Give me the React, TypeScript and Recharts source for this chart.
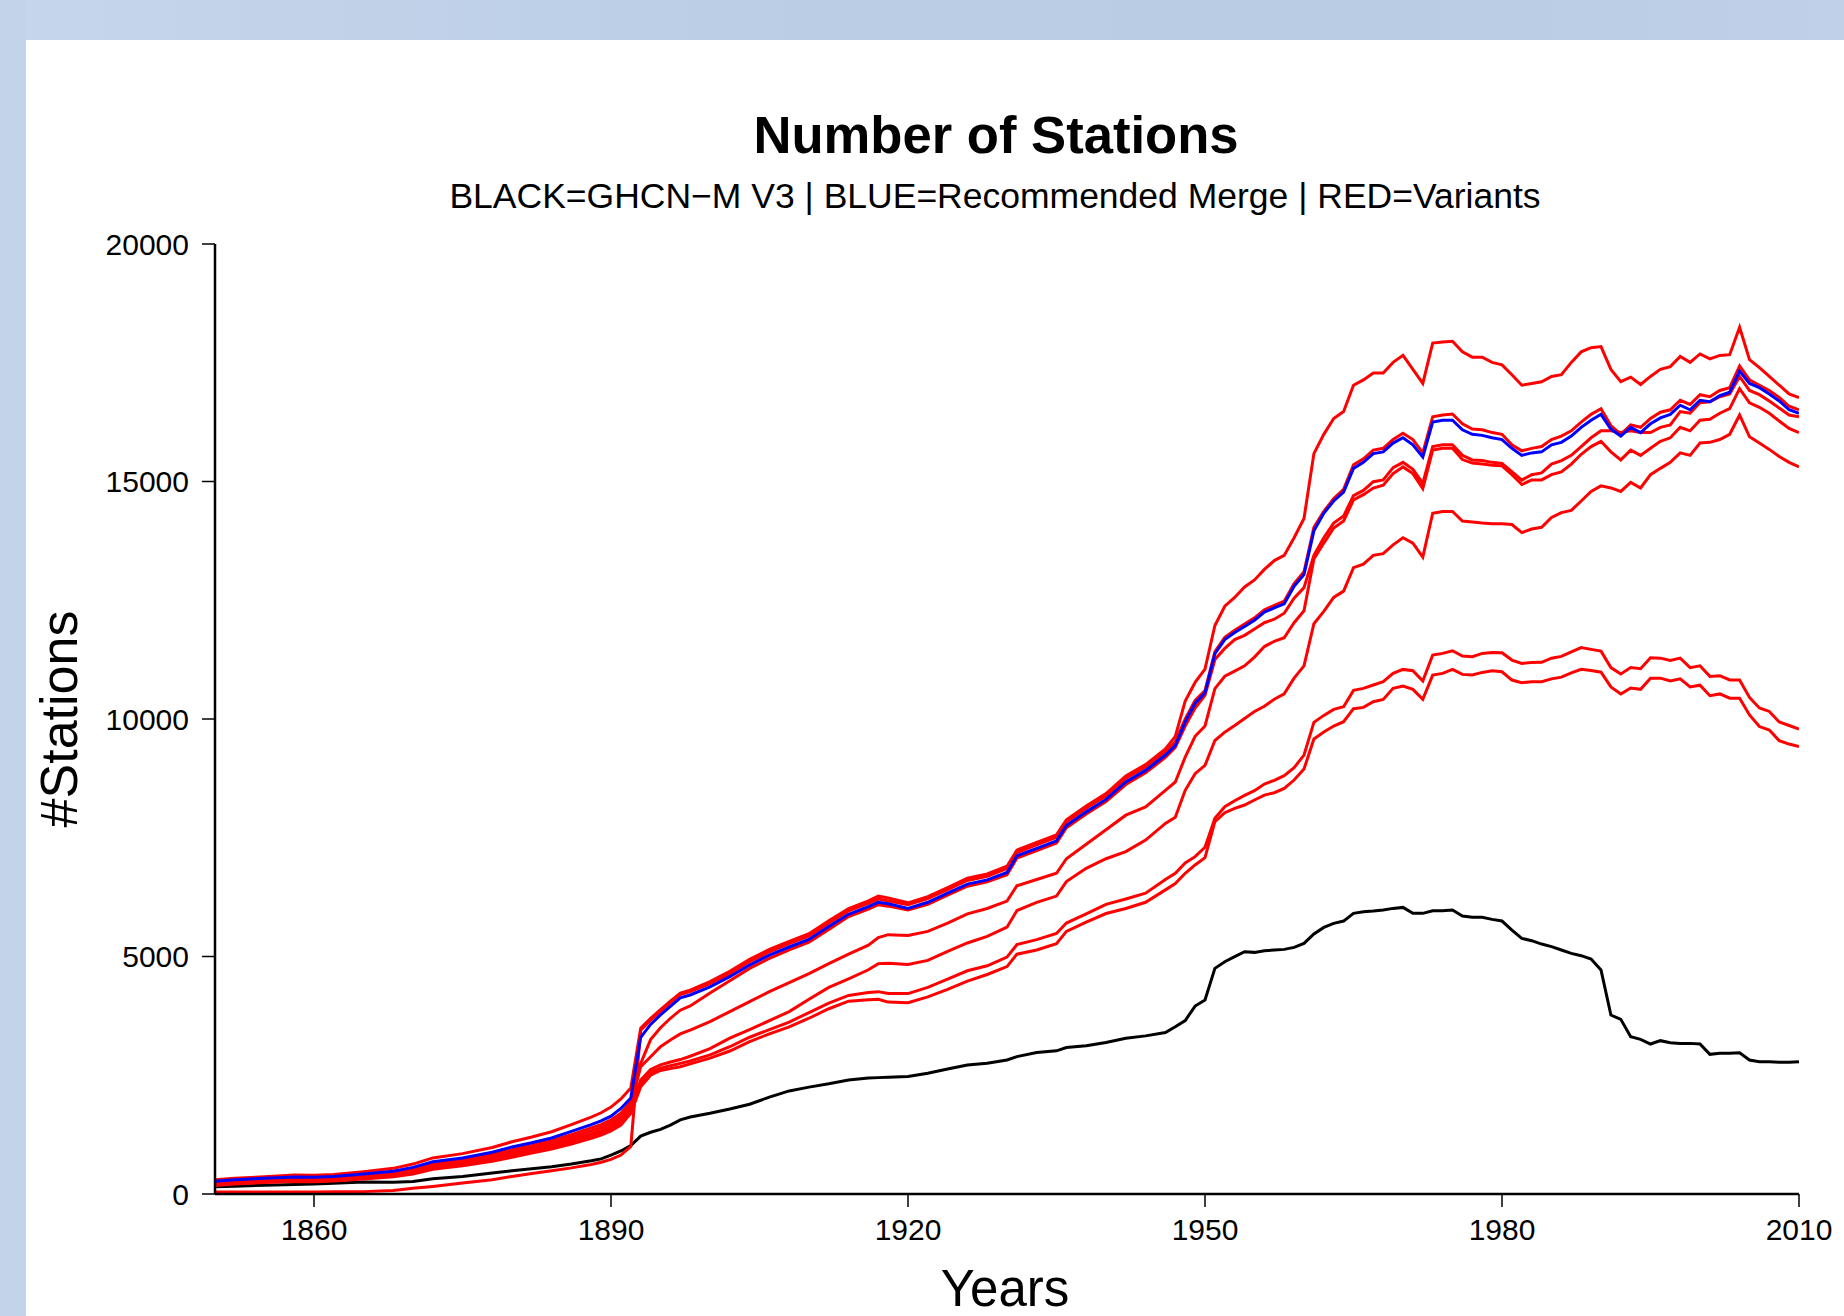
import React from "react";
import { LineChart, Line, XAxis, YAxis } from "recharts";

const years = [
  1850, 1852, 1855, 1858, 1860, 1862, 1865, 1868, 1870, 1872, 1875, 1878, 1880, 1882, 1884, 1886, 1888, 1889, 1890, 1891, 1892,
  1893, 1894, 1895, 1896, 1897, 1898,
  1900, 1902, 1904, 1906, 1908, 1910, 1912, 1914, 1916, 1917, 1918,
  1920, 1922, 1924, 1926, 1928, 1930, 1931, 1933, 1935, 1936, 1938, 1940, 1942, 1944, 1946, 1947, 1948, 1949, 1950,
  1951, 1952, 1953, 1954, 1955, 1956, 1957, 1958, 1959, 1960,
  1961, 1962, 1963, 1964, 1965, 1966, 1967, 1968, 1969, 1970,
  1971, 1972, 1973, 1974, 1975, 1976, 1977, 1978, 1979, 1980,
  1981, 1982, 1983, 1984, 1985, 1986, 1987, 1988, 1989, 1990,
  1991, 1992, 1993, 1994, 1995, 1996, 1997, 1998, 1999, 2000,
  2001, 2002, 2003, 2004, 2005, 2006, 2007, 2008, 2009, 2010,
];

const ghcnV3 = [
  155, 165, 185, 200, 210, 225, 250, 245, 265, 320, 370, 440, 490, 530, 575, 630, 700, 740, 820, 905, 1020,
  1220, 1300, 1360, 1450, 1560, 1620,
  1700, 1790, 1890, 2040, 2170, 2250, 2320, 2400, 2440, 2450, 2460,
  2472, 2542, 2630, 2717, 2752, 2822, 2892, 2979, 3014, 3084, 3119, 3189, 3277, 3329, 3399, 3521, 3652, 3957, 4084,
  4750, 4891, 4996, 5101, 5087, 5122, 5136, 5150, 5192, 5276,
  5473, 5613, 5697, 5746, 5908, 5943, 5957, 5978, 6013, 6034,
  5908, 5908, 5964, 5964, 5978, 5852, 5824, 5824, 5782, 5747,
  5557, 5382, 5333, 5262, 5207, 5136, 5066, 5017, 4947, 4715,
  3768, 3677, 3312, 3256, 3157, 3228, 3185, 3171, 3171, 3157,
  2940, 2961, 2961, 2975, 2821, 2786, 2786, 2772, 2772, 2786,
];

const recommendedMerge = [
  270, 300, 330, 360, 355, 370, 420, 480, 560, 680, 760, 880, 990, 1080, 1180, 1320, 1460, 1540, 1640, 1800, 2020,
  3300, 3570, 3770, 3950, 4130, 4190,
  4360, 4575, 4820, 5030, 5200, 5360, 5630, 5890, 6050, 6140, 6110,
  6010, 6141, 6333, 6525, 6613, 6770, 7119, 7277, 7434, 7757, 8045, 8307, 8674, 8918, 9242, 9442, 9940, 10333, 10551,
  11377, 11673, 11820, 11946, 12079, 12249, 12337, 12426, 12795, 13039,
  13962, 14332, 14590, 14775, 15277, 15403, 15587, 15624, 15809, 15920,
  15772, 15513, 16252, 16289, 16289, 16089, 15993, 15971, 15920, 15883,
  15698, 15550, 15602, 15624, 15772, 15824, 15957, 16141, 16289, 16414,
  16104, 15957, 16141, 16030, 16215, 16340, 16414, 16606, 16510, 16710,
  16680, 16806, 16880, 17323, 17064, 16976, 16843, 16695, 16510, 16436,
];

const variant1 = [
  300, 330, 365, 400, 395, 410, 470, 540, 630, 760, 850, 980, 1100, 1200, 1310, 1460, 1620, 1710, 1830, 2000, 2230,
  3490, 3700, 3880, 4060, 4230, 4290,
  4470, 4690, 4940, 5150, 5320, 5480, 5750, 6010, 6170, 6270, 6230,
  6130, 6260, 6450, 6650, 6740, 6900, 7240, 7400, 7560, 7880, 8170, 8430, 8800, 9040, 9370, 9635, 10377, 10770, 11050,
  11968, 12374, 12559, 12780, 12928, 13150, 13335, 13445, 13815, 14221,
  15587, 15993, 16326, 16473, 17027, 17138, 17286, 17286, 17508, 17655,
  17360, 17064, 17914, 17936, 17951, 17729, 17618, 17618, 17508, 17456,
  17249, 17027, 17064, 17101, 17212, 17249, 17508, 17729, 17818, 17840,
  17360, 17101, 17197, 17042, 17212, 17360, 17419, 17633, 17508, 17685,
  17581, 17655, 17670, 18246, 17567, 17397, 17212, 17027, 16843, 16769,
];

const variant2 = [
  40, 40, 40, 40, 40, 45, 50, 75, 120, 160, 230, 300, 370, 430, 490, 550, 620, 670, 730, 820, 1000,
  3450, 3660, 3850, 4030, 4200, 4260,
  4430, 4640, 4890, 5100, 5270, 5430, 5700, 5960, 6120, 6210, 6170,
  6090, 6220, 6410, 6600, 6690, 6850, 7190, 7350, 7510, 7830, 8120, 8380, 8750, 8990, 9310, 9520, 10000, 10390, 10600,
  11420, 11720, 11870, 12000, 12130, 12300, 12390, 12480, 12850, 13100,
  14036, 14369, 14642, 14834, 15351, 15476, 15661, 15698, 15883, 16016,
  15883, 15602, 16363, 16400, 16422, 16215, 16104, 16089, 16030, 15993,
  15772, 15646, 15698, 15735, 15883, 15957, 16067, 16252, 16414, 16533,
  16178, 15994, 16193, 16141, 16326, 16459, 16510, 16710, 16621, 16828,
  16784, 16917, 16976, 17434, 17138, 17027, 16917, 16769, 16584, 16510,
];

const variant3 = [
  250, 280, 310, 335, 330, 345, 395, 455, 525, 640, 720, 830, 930, 1020, 1120, 1250, 1390, 1460, 1560, 1700, 1940,
  2750, 3250, 3500, 3700, 3870, 3960,
  4230, 4490, 4750, 4960, 5140, 5300, 5570, 5840, 6000, 6090, 6060,
  5980, 6100, 6290, 6480, 6570, 6720, 7070, 7230, 7390, 7710, 8000, 8260, 8620, 8870, 9190, 9400, 9850, 10230, 10500,
  11251, 11486, 11673, 11761, 11894, 12027, 12101, 12227, 12544, 12766,
  13445, 13815, 14125, 14273, 14701, 14812, 14996, 15033, 15292, 15403,
  15255, 14960, 15735, 15772, 15772, 15550, 15454, 15440, 15403, 15380,
  15205, 15030, 15144, 15181, 15366, 15440, 15550, 15735, 15920, 16067,
  16067, 16030, 16067, 16030, 16030, 16141, 16193, 16473, 16437, 16658,
  16680, 16784, 16843, 17212, 16917, 16828, 16695, 16547, 16400, 16363,
];

const variant4 = [
  230, 260, 290, 315, 310, 325, 375, 430, 495, 610, 690, 795, 890, 980, 1070, 1200, 1330, 1400, 1500, 1630, 1880,
  2680, 2890, 3100, 3240, 3370, 3450,
  3630, 3840, 4050, 4260, 4450, 4640, 4850, 5050, 5240, 5400, 5460,
  5442, 5529, 5704, 5897, 6010, 6167, 6490, 6621, 6752, 7058, 7364, 7670, 7975, 8150, 8499, 8674, 9198, 9635, 9853,
  10639, 10901, 11008, 11119, 11303, 11525, 11636, 11710, 12027, 12278,
  13371, 13704, 14021, 14169, 14612, 14723, 14863, 14922, 15166, 15307,
  15166, 14849, 15661, 15698, 15698, 15462, 15388, 15366, 15343, 15329,
  15144, 14937, 15033, 15034, 15144, 15203, 15366, 15573, 15735, 15846,
  15624, 15454, 15661, 15550, 15698, 15846, 15920, 16141, 16067, 16289,
  16311, 16437, 16533, 16954, 16658, 16562, 16437, 16274, 16119, 16030,
];

const variant5 = [
  210, 240, 270, 295, 290, 305, 355, 405, 470, 580, 660, 760, 850, 940, 1030, 1150, 1270, 1340, 1440, 1570, 1820,
  2400, 2620, 2720, 2780, 2830, 2900,
  3060, 3280, 3460, 3650, 3840, 4100, 4350, 4530, 4720, 4850, 4860,
  4831, 4918, 5110, 5285, 5425, 5617, 5966, 6141, 6272, 6578, 6857, 7058, 7207, 7451, 7801, 7931, 8499, 8848, 9023,
  9547, 9722, 9863, 10011, 10158, 10269, 10417, 10528, 10861, 11119,
  12005, 12264, 12559, 12692, 13187, 13261, 13445, 13482, 13667, 13815,
  13704, 13408, 14332, 14369, 14369, 14169, 14147, 14125, 14110, 14110,
  14095, 13925, 13999, 14036, 14243, 14346, 14391, 14590, 14790, 14908,
  14864, 14790, 14982, 14864, 15144, 15277, 15403, 15602, 15550, 15809,
  15824, 15883, 15994, 16400, 15942, 15809, 15676, 15528, 15403, 15307,
];

const variant6 = [
  195, 225, 255, 280, 275, 290, 335, 385, 445, 550, 625, 720, 810, 895, 985, 1100, 1220, 1290, 1380, 1510, 1760,
  2330, 2560, 2650, 2700, 2750, 2800,
  2930, 3100, 3300, 3460, 3620, 3820, 4020, 4180, 4240, 4260, 4220,
  4219, 4350, 4525, 4700, 4805, 4988, 5250, 5355, 5486, 5704, 5897, 6098, 6211, 6333, 6621, 6752, 6971, 7102, 7300,
  7908, 8154, 8280, 8392, 8490, 8631, 8708, 8806, 8975, 9241,
  9929, 10076, 10202, 10259, 10602, 10645, 10715, 10785, 10960, 11044,
  11016, 10799, 11346, 11381, 11437, 11325, 11311, 11381, 11402, 11395,
  11241, 11171, 11192, 11193, 11281, 11318, 11414, 11503, 11466, 11429,
  11082, 10949, 11082, 11060, 11289, 11281, 11230, 11281, 11082, 11119,
  10897, 10912, 10823, 10823, 10454, 10232, 10159, 9937, 9863, 9789,
];

const variant7 = [
  180, 210, 240, 265, 260, 275, 315, 365, 420, 520, 595, 690, 775, 860, 945, 1050, 1170, 1240, 1330, 1450, 1700,
  2260, 2500, 2600, 2640, 2680, 2740,
  2860, 3010, 3210, 3370, 3520, 3700, 3900, 4060, 4090, 4100, 4040,
  4027, 4150, 4307, 4482, 4621, 4787, 5049, 5137, 5268, 5529, 5722, 5905, 6010, 6141, 6403, 6534, 6752, 6927, 7080,
  7838, 8027, 8119, 8189, 8294, 8399, 8448, 8540, 8715, 8946,
  9578, 9725, 9852, 9943, 10217, 10245, 10364, 10413, 10645, 10694,
  10624, 10413, 10925, 10960, 11044, 10939, 10925, 10981, 11016, 10995,
  10820, 10764, 10785, 10786, 10845, 10882, 10971, 11045, 11023, 10986,
  10675, 10528, 10653, 10624, 10860, 10860, 10801, 10845, 10675, 10712,
  10491, 10528, 10439, 10439, 10085, 9841, 9767, 9545, 9472, 9420,
];

const xTicks = [1860, 1890, 1920, 1950, 1980, 2010];
const yTicks = [0, 5000, 10000, 15000, 20000];

const titleText = "Number of Stations";
const subtitleText = "BLACK=GHCN\u2212M V3 | BLUE=Recommended Merge | RED=Variants";
const xLabel = "Years";
const yLabel = "#Stations";

const variants = [variant1, variant2, variant3, variant4, variant5, variant6, variant7];

const data = years.map((y, i) => {
  const row: Record<string, number> = { year: y, ghcn: ghcnV3[i], merge: recommendedMerge[i] };
  variants.forEach((v, k) => {
    row["v" + (k + 1)] = v[i];
  });
  return row;
});

const FONT = "'Liberation Sans', Arial, Helvetica, sans-serif";

export default function App() {
  return (
    <div style={{ position: "absolute", left: 0, top: 0, width: 1844, height: 1316, overflow: "hidden", background: "#ffffff" }}>
      <div style={{ position: "absolute", left: 0, top: 0, width: 1844, height: 40, background: "linear-gradient(90deg, #c6d6eb 0%, #bacde5 45%, #b9cce4 75%, #bfd0e7 100%)" }} />
      <div style={{ position: "absolute", left: 0, top: 0, width: 26, height: 1316, background: "#c3d3ea" }} />
      <div style={{ position: "absolute", left: 0, top: 0 }}>
        <LineChart width={1844} height={1316} data={data} margin={{ top: 244, right: 45, bottom: 2, left: 15 }}>
          <XAxis
            dataKey="year"
            type="number"
            domain={[1850, 2010]}
            ticks={xTicks}
            allowDataOverflow
            height={120}
            tickSize={13}
            tickMargin={12}
            axisLine={{ stroke: "#000", strokeWidth: 2.5 }}
            tickLine={{ stroke: "#000", strokeWidth: 1.5 }}
            tick={{ fill: "#000", fontSize: 30, fontFamily: FONT }}
          />
          <YAxis
            type="number"
            domain={[0, 20000]}
            ticks={yTicks}
            allowDataOverflow
            width={200}
            tickSize={13}
            tickMargin={13}
            axisLine={{ stroke: "#000", strokeWidth: 2.5 }}
            tickLine={{ stroke: "#000", strokeWidth: 1.5 }}
            tick={{ fill: "#000", fontSize: 30, fontFamily: FONT }}
          />
          <Line type="linear" dataKey="ghcn" stroke="#000000" strokeWidth={3} dot={false} isAnimationActive={false} />
          {variants.map((_, k) => (
            <Line key={k} type="linear" dataKey={"v" + (k + 1)} stroke="#ff0000" strokeWidth={3} dot={false} isAnimationActive={false} />
          ))}
          <Line type="linear" dataKey="merge" stroke="#0000ff" strokeWidth={3} dot={false} isAnimationActive={false} />
        </LineChart>
      </div>
      <svg width={1844} height={1316} style={{ position: "absolute", left: 0, top: 0, pointerEvents: "none" }}>
        <text x={996} y={153} textAnchor="middle" fontFamily={FONT} fontWeight="bold" fontSize={52.6} fill="#000">{titleText}</text>
        <text x={995} y={208} textAnchor="middle" fontFamily={FONT} fontSize={35.5} fill="#000">{subtitleText}</text>
        <text x={1005} y={1306} textAnchor="middle" fontFamily={FONT} fontSize={51} fill="#000">{xLabel}</text>
        <text transform="translate(77,719) rotate(-90)" textAnchor="middle" fontFamily={FONT} fontSize={52} fill="#000">{yLabel}</text>
      </svg>
    </div>
  );
}
